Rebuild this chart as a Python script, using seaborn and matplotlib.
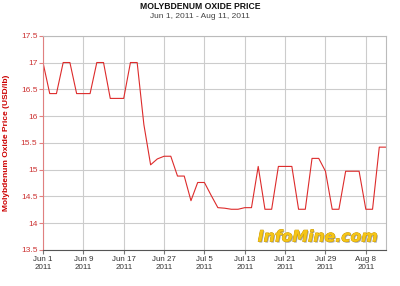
import matplotlib
matplotlib.use("Agg")
import matplotlib.pyplot as plt
import matplotlib.patheffects as pe
import seaborn as sns
import pandas as pd
import numpy as np

# Data (business days Jun 1 - Aug 11, 2011)
dates = pd.bdate_range("2011-06-01", "2011-08-11")
prices = [17.00, 16.42, 16.42, 17.00, 17.00, 16.42, 16.42, 16.42, 17.00, 17.00,
          16.33, 16.33, 16.33, 17.00, 17.00, 15.84, 15.09, 15.20, 15.25, 15.25,
          14.88, 14.88, 14.42, 14.76, 14.76, 14.52, 14.29, 14.28, 14.26, 14.26,
          14.29, 14.29, 15.06, 14.26, 14.26, 15.06, 15.06, 15.06, 14.26, 14.26,
          15.21, 15.21, 14.97, 14.26, 14.26, 14.97, 14.97, 14.97, 14.26, 14.26,
          15.42, 15.42]
tick_labels = ["Jun 1\n2011", "Jun 9\n2011", "Jun 17\n2011", "Jun 27\n2011",
               "Jul 5\n2011", "Jul 13\n2011", "Jul 21\n2011", "Jul 29\n2011",
               "Aug 8\n2011"]
y_ticks = [13.5, 14, 14.5, 15, 15.5, 16, 16.5, 17, 17.5]
y_tick_labels = ["13.5", "14", "14.5", "15", "15.5", "16", "16.5", "17", "17.5"]

df = pd.DataFrame({"idx": np.arange(len(dates)), "price": prices})

sns.set_theme(style="white")
plt.rcParams['font.family'] = ['Liberation Sans', 'DejaVu Sans']

fig = plt.figure(figsize=(4.0, 2.86), dpi=100)
ax = fig.add_axes([0.1075, 0.126, 0.8575, 0.749])

sns.lineplot(data=df, x="idx", y="price", ax=ax, color="#dd2b2b", linewidth=0.8)

ax.set_xlim(0, len(dates) - 1)
ax.set_ylim(13.5, 17.5)
tick_pos = [0, 6, 12, 18, 24, 30, 36, 42, 48]
ax.set_xticks(tick_pos)
ax.set_xticklabels(tick_labels, fontsize=5.8, color="#333333", linespacing=1.1)
ax.set_yticks(y_ticks)
ax.set_yticklabels(y_tick_labels, fontsize=6, color="#cc3333")
ax.grid(True, color="#cccccc", linewidth=0.8)
ax.tick_params(axis="x", length=3, width=0.8, color="#777777", pad=1.5, bottom=True)
ax.tick_params(axis="y", length=3, width=0.8, color="#e08080", pad=1, left=True)
ax.set_xlabel("")
ax.set_ylabel("Molybdenum Oxide Price (USD/lb)", fontsize=6, color="#cc0000",
              fontweight="bold", labelpad=8)

for s in ["top", "right"]:
    ax.spines[s].set_color("#bbbbbb")
    ax.spines[s].set_linewidth(0.8)
ax.spines["left"].set_color("#e08080")
ax.spines["left"].set_linewidth(0.8)
ax.spines["bottom"].set_color("#555555")
ax.spines["bottom"].set_linewidth(0.8)

fig.text(0.5, 1 - 6.5 / 286, "MOLYBDENUM OXIDE PRICE", ha="center", va="center",
         fontsize=6.2, fontweight="bold", color="#111111")
fig.text(0.5, 1 - 16 / 286, "Jun 1, 2011 - Aug 11, 2011", ha="center", va="center",
         fontsize=6, color="#444444")

fig.text(318 / 400, 1 - 237 / 286, "InfoMine.com", ha="center", va="center",
         fontsize=11.3, fontweight="bold", fontstyle="italic", color="#f5c518",
         family=["DejaVu Sans"],
         path_effects=[pe.withSimplePatchShadow(offset=(0.8, -0.8), shadow_rgbFace="#888888", alpha=0.7),
                       pe.Stroke(linewidth=0.5, foreground="#c09000"), pe.Normal()])

fig.savefig("out.png", dpi=100, facecolor="white")
